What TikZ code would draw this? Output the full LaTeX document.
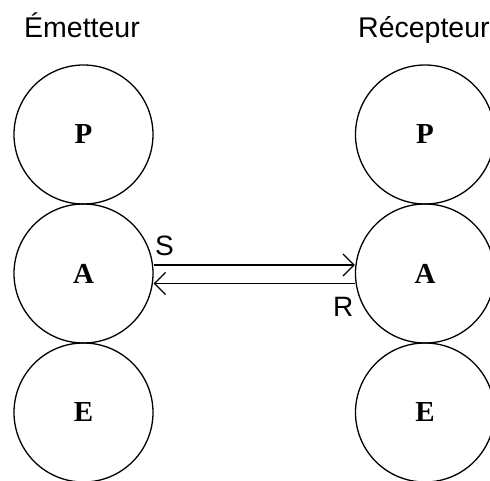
\documentclass[tikz,border=0pt]{standalone}
\usepackage{fontspec}
\setmainfont{Liberation Serif}
\setsansfont{Liberation Sans}
\usetikzlibrary{arrows.meta}
\begin{document}
\begin{tikzpicture}[x=1pt,y=1pt,
  layer/.style={circle,draw,line width=1.3pt,minimum size=139pt,inner sep=0pt,font=\fontsize{29}{31}\selectfont\bfseries},
  title/.style={font=\sffamily\fontsize{28.5}{31}\selectfont,inner sep=0pt},
  lbl/.style={font=\sffamily\fontsize{28}{30}\selectfont,inner sep=0pt},
  msg/.style={line width=1.3pt,-{Straight Barb[length=11pt,width=22pt,line width=1.3pt]}}]
\useasboundingbox (0,0) rectangle (490,-481);
\clip (0,0) rectangle (490,-481);
\node[layer] (P1) at (83.5,-134.5) {P};
\node[layer] (A1) at (83.5,-273.5) {A};
\node[layer] (E1) at (83.5,-412.5) {E};
\node[layer] (P2) at (425,-134.5) {P};
\node[layer] (A2) at (425,-273.5) {A};
\node[layer] (E2) at (425,-412.5) {E};
\node[title,anchor=base] (t1) at (82,-38) {Émetteur};
\node[title,anchor=base west] (t2) at (358,-38) {Récepteur};
\draw[msg] (A1.east |- 0,-265) coordinate (s1) -- (A2.west |- 0,-265) coordinate (s2);
\draw[msg] (A2.west |- 0,-283.5) coordinate (r1) -- (A1.east |- 0,-283.5) coordinate (r2);
\node[lbl,anchor=base west] (S) at (155,-255) {S};
\node[lbl,anchor=base west] (R) at (333,-316) {R};
\end{tikzpicture}
\end{document}
